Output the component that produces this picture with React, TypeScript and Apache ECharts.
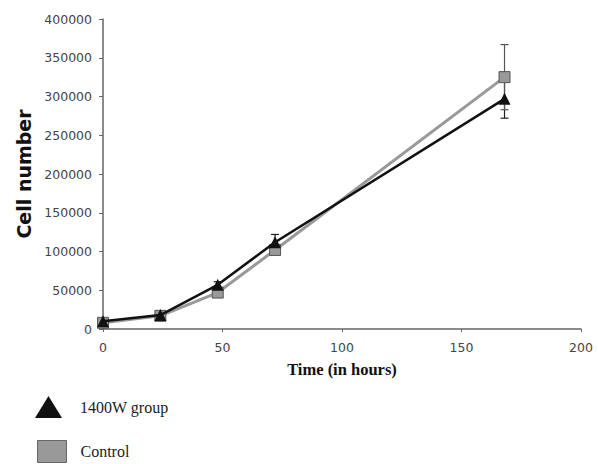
import React, { useEffect, useRef } from "react";
import * as echarts from "echarts";

const hours = [0, 24, 48, 72, 168];
const group1400W = [10000, 18000, 57000, 112000, 297000];
const control = [8000, 17000, 47000, 102000, 325000];
const err1400W = [2000, 3000, 4000, 10000, 25000];
const errControl = [2000, 3000, 4000, 6000, 42000];
const yTicks = [0, 50000, 100000, 150000, 200000, 250000, 300000, 350000, 400000];
const xTicks = [0, 50, 100, 150, 200];

function errorSeries(name: string, vals: number[], errs: number[], color: string) {
  const data = hours.map((h, i) => [h, vals[i] - errs[i], vals[i] + errs[i]]);
  return {
    type: "custom",
    name: name + " err",
    z: 1,
    renderItem: (params: any, api: any) => {
      const x = api.value(0);
      const lo = api.coord([x, api.value(1)]);
      const hi = api.coord([x, api.value(2)]);
      const cw = 4;
      const style = { stroke: color, lineWidth: 1.2 };
      return {
        type: "group",
        children: [
          { type: "line", shape: { x1: lo[0], y1: lo[1], x2: hi[0], y2: hi[1] }, style },
          { type: "line", shape: { x1: lo[0] - cw, y1: lo[1], x2: lo[0] + cw, y2: lo[1] }, style },
          { type: "line", shape: { x1: hi[0] - cw, y1: hi[1], x2: hi[0] + cw, y2: hi[1] }, style },
        ],
      };
    },
    encode: { x: 0, y: [1, 2] },
    data,
    silent: true,
  };
}

export default function App() {
  const ref = useRef<HTMLDivElement>(null);
  useEffect(() => {
    if (!ref.current) return;
    const chart = echarts.init(ref.current, null, { renderer: "svg" });
    const labelFont = { color: "#444", fontFamily: "DejaVu Sans", fontSize: 12.5 };
    const legendText = {
      fontFamily: "Liberation Serif",
      fontSize: 16,
      color: "#222",
      padding: [0, 0, 0, 13],
    };
    chart.setOption({
      animation: false,
      backgroundColor: "#fff",
      grid: { left: 103, right: 17, top: 19, bottom: 135, containLabel: false },
      legend: [
        {
          left: 35,
          top: 396,
          padding: 0,
          itemWidth: 27,
          itemHeight: 22,
          selectedMode: false,
          textStyle: legendText,
          data: [{ name: "1400W group", icon: "triangle", itemStyle: { color: "#111", borderWidth: 0 } }],
        },
        {
          left: 37,
          top: 440,
          padding: 0,
          itemWidth: 29,
          itemHeight: 22,
          selectedMode: false,
          textStyle: { ...legendText, padding: [0, 0, 0, 9] },
          data: [{ name: "Control", icon: "rect", itemStyle: { color: "#999", borderColor: "#666", borderWidth: 1 } }],
        },
      ],
      xAxis: {
        type: "value",
        min: xTicks[0],
        max: xTicks[xTicks.length - 1],
        interval: 50,
        name: "Time (in hours)",
        nameLocation: "middle",
        nameGap: 32,
        nameTextStyle: { fontFamily: "Liberation Serif", fontWeight: "bold", fontSize: 16.5, color: "#111" },
        axisLine: { lineStyle: { color: "#666", width: 1.5 } },
        axisTick: { show: true, length: 3, lineStyle: { color: "#666" } },
        axisLabel: { ...labelFont, margin: 12, formatter: (v: number) => String(v) },
        splitLine: { show: false },
      },
      yAxis: {
        type: "value",
        min: yTicks[0],
        max: yTicks[yTicks.length - 1],
        interval: 50000,
        name: "Cell number",
        nameLocation: "middle",
        nameGap: 70,
        nameTextStyle: { fontFamily: "DejaVu Sans", fontWeight: "bold", fontSize: 19, color: "#111" },
        axisLine: { show: true, lineStyle: { color: "#666", width: 1.5 } },
        axisTick: { show: true, length: 4, lineStyle: { color: "#666" } },
        axisLabel: { ...labelFont, margin: 11, formatter: (v: number) => String(v) },
        splitLine: { show: false },
      },
      series: [
        errorSeries("1400W group", group1400W, err1400W, "#222"),
        errorSeries("Control", control, errControl, "#555"),
        {
          type: "line",
          name: "Control",
          z: 2,
          data: hours.map((h, i) => [h, control[i]]),
          symbol: "rect",
          symbolSize: 11,
          itemStyle: { color: "#999", borderColor: "#555", borderWidth: 1 },
          lineStyle: { color: "#999", width: 3 },
        },
        {
          type: "line",
          name: "1400W group",
          z: 3,
          data: hours.map((h, i) => [h, group1400W[i]]),
          symbol: "triangle",
          symbolSize: 12,
          itemStyle: { color: "#111" },
          lineStyle: { color: "#111", width: 2.5 },
        },
      ],
    });
    return () => chart.dispose();
  }, []);
  return <div ref={ref} style={{ width: 598, height: 464, position: "absolute", left: 0, top: 0 }} />;
}
